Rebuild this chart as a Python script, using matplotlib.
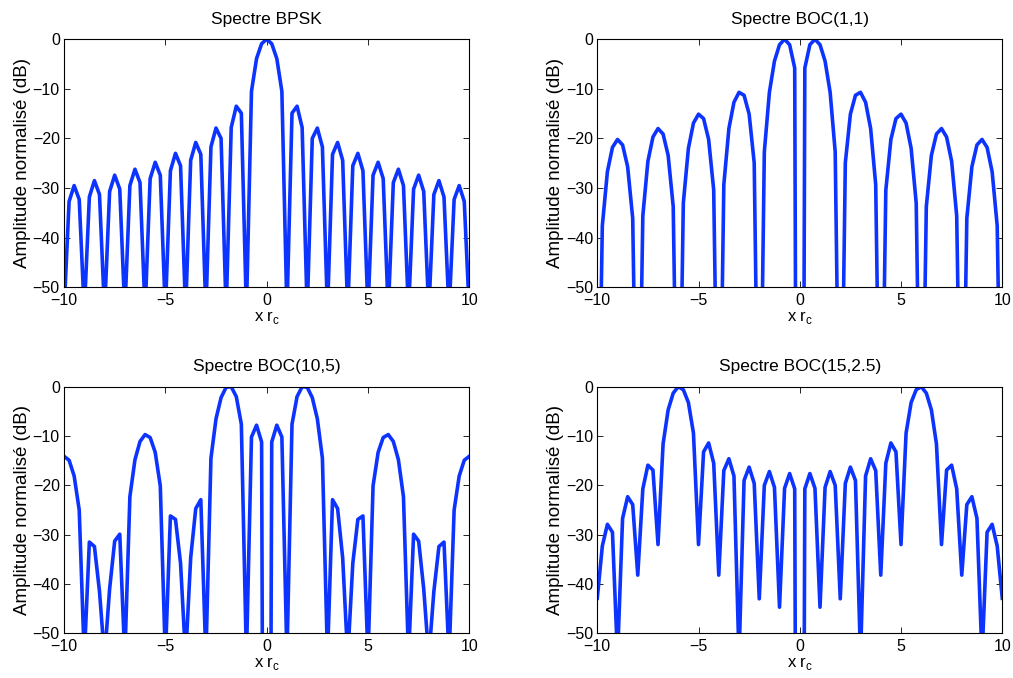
import numpy as np
import matplotlib
matplotlib.use("Agg")
import matplotlib.pyplot as plt

plt.rcParams['font.family'] = ['Liberation Sans', 'DejaVu Sans']
plt.rcParams['mathtext.fontset'] = 'custom'
plt.rcParams['mathtext.rm'] = 'Liberation Sans'

# axe des fréquences normalisées (pas de 0.25 entre -10 et 10)
x = np.linspace(-10, 10, 81)

# spectres en dB
# (valeurs < -50 : creux sous l'axe, estimés d'après la pente des traits)
bpsk = [
    -55, -32.7, -29.5, -32.3,
    -55, -31.8, -28.5, -31.3,
    -55, -30.7, -27.4, -30.2,
    -55, -29.5, -26.2, -28.9,
    -55, -28.1, -24.8, -27.4,
    -55, -26.5, -23.0, -25.5,
    -55, -24.4, -20.8, -23.2,
    -55, -21.7, -17.9, -20.0,
    -55, -17.8, -13.5, -14.9,
    -55, -10.5, -3.9, -0.9,
    0.0, -0.9, -3.9, -10.5,
    -55, -14.9, -13.5, -17.8,
    -55, -20.0, -17.9, -21.7,
    -55, -23.2, -20.8, -24.4,
    -55, -25.5, -23.0, -26.5,
    -55, -27.4, -24.8, -28.1,
    -55, -28.9, -26.2, -29.5,
    -55, -30.2, -27.4, -30.7,
    -55, -31.3, -28.5, -31.8,
    -55, -32.3, -29.5, -32.7,
    -55]

boc_1_1 = [
    -100, -37.6, -26.7, -21.8,
    -20.2, -21.3, -25.7, -36.1,
    -100, -35.6, -24.6, -19.7,
    -18.0, -19.1, -23.4, -33.7,
    -100, -33.0, -22.0, -16.9,
    -15.1, -16.0, -20.2, -30.4,
    -100, -29.3, -18.0, -12.7,
    -10.7, -11.3, -15.1, -24.9,
    -100, -22.7, -10.7, -4.4,
    -1.1, 0.0, -1.1, -5.8,
    -300, -5.8, -1.1, 0.0,
    -1.1, -4.4, -10.7, -22.7,
    -100, -24.9, -15.1, -11.3,
    -10.7, -12.7, -18.0, -29.3,
    -100, -30.4, -20.2, -16.0,
    -15.1, -16.9, -22.0, -33.0,
    -100, -33.7, -23.4, -19.1,
    -18.0, -19.7, -24.6, -35.6,
    -100, -36.1, -25.7, -21.3,
    -20.2, -21.8, -26.7, -37.6,
    -100]

boc_10_5 = [
    -14.1, -14.9, -18.1, -25.0,
    -55, -31.5, -32.4, -41.5,
    -55, -41.0, -31.3, -29.9,
    -55, -22.3, -14.8, -11.1,
    -9.7, -10.3, -13.3, -20.1,
    -55, -26.2, -26.9, -35.8,
    -55, -34.7, -24.7, -22.9,
    -55, -14.5, -6.5, -2.2,
    -0.1, 0.0, -2.0, -7.6,
    -55, -10.2, -7.8, -11.2,
    -300, -11.2, -7.8, -10.2,
    -55, -7.6, -2.0, 0.0,
    -0.1, -2.2, -6.5, -14.5,
    -55, -22.9, -24.7, -34.7,
    -55, -35.8, -26.9, -26.2,
    -55, -20.1, -13.3, -10.3,
    -9.7, -11.1, -14.8, -22.3,
    -55, -29.9, -31.3, -41.0,
    -55, -41.5, -32.4, -31.5,
    -55, -25.0, -18.1, -14.9,
    -14.1]

boc_15_25 = [
    -42.9, -32.3, -27.9, -29.5,
    -55, -26.7, -22.3, -23.9,
    -38.2, -20.7, -15.9, -16.9,
    -32.0, -11.6, -4.7, -1.3,
    0.0, -0.6, -3.2, -9.4,
    -32.0, -13.2, -11.4, -15.5,
    -38.2, -17.0, -14.6, -18.1,
    -55, -19.0, -16.3, -19.6,
    -43.0, -20.0, -17.2, -20.4,
    -44.7, -20.6, -17.6, -20.7,
    -300, -20.7, -17.6, -20.6,
    -44.7, -20.4, -17.2, -20.0,
    -43.0, -19.6, -16.3, -19.0,
    -55, -18.1, -14.6, -17.0,
    -38.2, -15.5, -11.4, -13.2,
    -32.0, -9.4, -3.2, -0.6,
    0.0, -1.3, -4.7, -11.6,
    -32.0, -16.9, -15.9, -20.7,
    -38.2, -23.9, -22.3, -26.7,
    -55, -29.5, -27.9, -32.3,
    -42.9]

titres = ["Spectre BPSK", "Spectre BOC(1,1)", "Spectre BOC(10,5)", "Spectre BOC(15,2.5)"]
spectres = [bpsk, boc_1_1, boc_10_5, boc_15_25]
xticks = [-10, -5, 0, 5, 10]
yticks = [-50, -40, -30, -20, -10, 0]

# positions des 4 axes [gauche, bas, largeur, hauteur] en fraction de figure
positions = [
    [0.0632, 0.5763, 0.4001, 0.3658],
    [0.5896, 0.5763, 0.3998, 0.3658],
    [0.0632, 0.0659, 0.4001, 0.3637],
    [0.5896, 0.0659, 0.3998, 0.3637],
]

fig = plt.figure(figsize=(10.13, 6.78), dpi=100)

for titre, y, pos in zip(titres, spectres, positions):
    ax = fig.add_axes(pos)
    ax.plot(x, y, color='#0d33ff', linewidth=2.6)
    ax.set_xlim(-10, 10)
    ax.set_ylim(-50, 0)
    ax.set_xticks(xticks)
    ax.set_yticks(yticks)
    ax.tick_params(direction='in', top=True, right=True, length=4, width=0.6, labelsize=11.5)
    ax.tick_params(axis='x', pad=4)
    ax.tick_params(axis='y', pad=3)
    for s in ax.spines.values():
        s.set_linewidth(0.8)
    ax.set_title(titre, fontsize=12.5, pad=11)
    ax.set_xlabel(r'x r$_\mathregular{c}$', fontsize=12, labelpad=1)
    ax.set_ylabel('Amplitude normalisé (dB)', fontsize=13.5, labelpad=1)

fig.savefig('out.png', dpi=100)
